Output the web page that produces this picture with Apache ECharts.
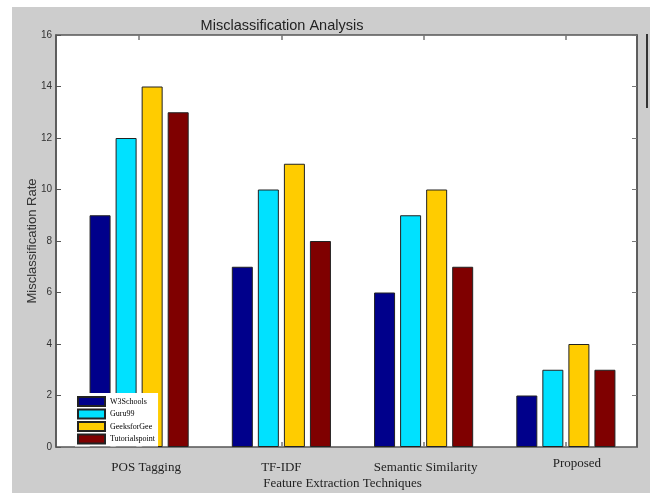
<!DOCTYPE html>
<html lang="en">
<head>
    <meta charset="UTF-8">
    <title>Misclassification Analysis</title>
    <script src="https://cdn.jsdelivr.net/npm/echarts@6/dist/echarts.min.js"></script>
    <style>
        html, body { margin: 0; padding: 0; background: #fff; }
        #chart { width: 650px; height: 493px; }
    </style>
</head>
<body>
    <div id="chart"></div>
    <script>
        // data
        var categories = ['POS Tagging', 'TF-IDF', 'Semantic Similarity', 'Proposed'];
        var w3schools = [9, 7, 6, 2];
        var guru99 = [12, 10, 9, 3];
        var geeksforGee = [14, 11, 10, 4];
        var tutorialspoint = [13, 8, 7, 3];
        var seriesNames = ['W3Schools', 'Guru99', 'GeeksforGee', 'Tutorialspoint'];

        var colors = ['#00008b', '#00e1ff', '#ffcc00', '#7f0000'];
        var serif = 'Liberation Serif';
        var sans = 'Liberation Sans';

        // the category labels in the original sit a little off the tick marks
        var labelPad = {
            'POS Tagging': [0, 0, 0, 14],
            'TF-IDF': [0, 0, 0, 0],
            'Semantic Similarity': [0, 0, 0, 4],
            'Proposed': [-4, 0, 0, 22]
        };

        var chart = echarts.init(document.getElementById('chart'));

        function barSeries(name, values, i) {
            return {
                name: name,
                type: 'bar',
                xAxisIndex: 1,
                yAxisIndex: 2,
                data: values,
                barWidth: 21,
                barGap: '24%',
                itemStyle: { color: colors[i], borderColor: '#222', borderWidth: 1 },
                emphasis: { disabled: true }
            };
        }

        var option = {
            animation: false,
            backgroundColor: '#fff',
            graphic: [
                { type: 'rect', z: -10, shape: { x: 12, y: 7, width: 638, height: 486 }, style: { fill: '#cdcdcd' } },
                { type: 'rect', z: -5, shape: { x: 646, y: 34, width: 2, height: 74 }, style: { fill: '#333' } }
            ],
            title: {
                text: 'Misclassification Analysis',
                left: 277,
                textAlign: 'center',
                top: 13,
                textStyle: { fontFamily: sans, fontSize: 14.5, fontWeight: 'normal', color: '#222' }
            },
            legend: {
                data: seriesNames,
                orient: 'vertical',
                left: 75,
                top: 393,
                backgroundColor: '#fff',
                padding: [3, 3, 2, 2],
                itemWidth: 27,
                itemHeight: 9,
                itemGap: 1.5,
                icon: 'rect',
                selectedMode: false,
                textStyle: { fontFamily: serif, fontSize: 8, color: '#000', lineHeight: 8 }
            },
            grid: [
                {   // frame
                    left: 56, right: 13, top: 35, bottom: 46,
                    outerBoundsMode: 'none',
                    show: true, backgroundColor: '#fff', borderColor: '#555', borderWidth: 1.5
                },
                {   // bars
                    left: 68, right: 13, top: 35, bottom: 46,
                    outerBoundsMode: 'none'
                }
            ],
            xAxis: [
                {
                    gridIndex: 0, type: 'value', min: 0, max: 1,
                    name: 'Feature Extraction Techniques',
                    nameLocation: 'middle',
                    nameGap: 30,
                    nameMoveOverlap: false,
                    nameTextStyle: { fontFamily: serif, fontSize: 13, color: '#222', padding: [0, 8, 0, 0] },
                    axisLine: { show: false }, axisTick: { show: false },
                    axisLabel: { show: false }, splitLine: { show: false }
                },
                {
                    gridIndex: 1, type: 'category',
                    data: categories.map(function (c) {
                        return { value: c, textStyle: { padding: labelPad[c] } };
                    }),
                    axisLine: { show: false },
                    axisTick: { show: true, inside: true, alignWithLabel: true, length: 5, lineStyle: { color: '#777', width: 1.5 } },
                    axisLabel: { margin: 14, fontFamily: serif, fontSize: 13, color: '#222' },
                    splitLine: { show: false }
                },
                {
                    gridIndex: 1, type: 'category', position: 'top',
                    data: categories,
                    axisLine: { show: false },
                    axisTick: { show: true, inside: true, alignWithLabel: true, length: 5, lineStyle: { color: '#777', width: 1.5 } },
                    axisLabel: { show: false },
                    splitLine: { show: false }
                }
            ],
            yAxis: [
                {
                    gridIndex: 0, type: 'value', min: 0, max: 16, interval: 2,
                    name: 'Misclassification Rate',
                    nameLocation: 'middle',
                    nameGap: 17,
                    nameMoveOverlap: false,
                    nameTextStyle: { fontFamily: sans, fontSize: 13, color: '#333' },
                    axisLine: { show: true, lineStyle: { color: '#555', width: 1.5 } },
                    axisTick: { show: true, inside: true, length: 5, lineStyle: { color: '#555' } },
                    axisLabel: { margin: 4, fontFamily: sans, fontSize: 10, color: '#333' },
                    splitLine: { show: false }
                },
                {
                    gridIndex: 0, type: 'value', min: 0, max: 16, interval: 2, position: 'right',
                    axisLine: { show: true, lineStyle: { color: '#555', width: 1.5 } },
                    axisTick: { show: true, inside: true, length: 5, lineStyle: { color: '#777' } },
                    axisLabel: { show: false },
                    splitLine: { show: false }
                },
                {
                    gridIndex: 1, type: 'value', min: 0, max: 16, interval: 2, show: false
                }
            ],
            series: [
                barSeries(seriesNames[0], w3schools, 0),
                barSeries(seriesNames[1], guru99, 1),
                barSeries(seriesNames[2], geeksforGee, 2),
                barSeries(seriesNames[3], tutorialspoint, 3)
            ]
        };

        chart.setOption(option);
    </script>
</body>
</html>
